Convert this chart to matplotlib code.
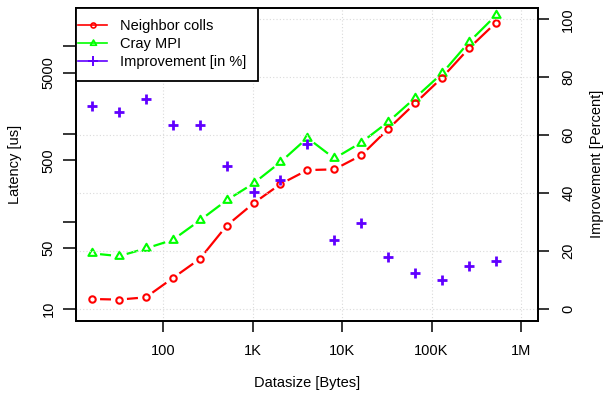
import numpy as np
import matplotlib
matplotlib.use('Agg')
import matplotlib.pyplot as plt
from matplotlib.lines import Line2D
from matplotlib.path import Path
from matplotlib.patches import Rectangle

plt.rcParams['font.family'] = ['Liberation Sans', 'DejaVu Sans']
plt.rcParams['font.size'] = 10.5

# message sizes in bytes (16 B .. 512 KB)
sizes = [16, 32, 64, 128, 256, 512, 1024, 2048, 4096, 8192, 16384,
         32768, 65536, 131072, 262144, 524288]
# latency in microseconds
neighbor = [13.1, 12.9, 13.7, 22.7, 37.5, 89.8, 162, 268, 387, 394, 570,
            1138, 2234, 4375, 9460, 18540]
cray = [43.4, 40.4, 49.4, 61.9, 103, 175, 273, 477, 901, 525, 798,
        1371, 2575, 4896, 11120, 22430]
# improvement in percent
improvement = [70.1, 68.0, 72.5, 63.6, 63.6, 49.5, 40.5, 44.5, 57.0, 23.7,
               29.6, 18.1, 12.5, 9.9, 14.7, 16.6]

xticks = [100, 1000, 10000, 100000, 1000000]
xticklabels = ['100', '1K', '10K', '100K', '1M']
yticks = [10, 50, 100, 500, 1000, 5000, 10000]
yticklabels = ['10', '50', '', '500', '', '5000', '']
rticks = [0, 20, 40, 60, 80, 100]

RED = '#FF0000'
GREEN = '#00FF00'
PURPLE = '#6000FF'

W, H = 608, 395
fig = plt.figure(figsize=(W / 100, H / 100), dpi=100)
x0, x1, y0, y1 = 75.7, 537.7, 7.7, 320.7
ax = fig.add_axes([x0 / W, 1 - y1 / H, (x1 - x0) / W, (y1 - y0) / H])
ax.set_xscale('log')
ax.set_yscale('log')
ax.set_xlim(10.5, 1.54e6)
ax.set_ylim(7.41, 27500)
ax2 = ax.twinx()
ax2.set_ylim(-4.04, 104.0)

for a in (ax, ax2):
    a.minorticks_off()
    for s in a.spines.values():
        s.set_linewidth(1.3)

ax.set_xticks(xticks)
ax.set_xticklabels(xticklabels)
ax.set_yticks(yticks)
ax.set_yticklabels(yticklabels, rotation=90, va='center')
ax2.set_yticks(rticks)
ax2.set_yticklabels([str(t) for t in rticks], rotation=90, va='center')
ax.tick_params(axis='x', length=8, width=1.1, pad=9)
ax.tick_params(axis='y', length=9.5, width=1.1, pad=5)
ax2.tick_params(axis='y', length=8, width=1.1, pad=9)

# dotted grid: vertical at x ticks, horizontal at right axis ticks
ax.grid(True, axis='x', color='#DADADA', linestyle=(0, (1, 2)), linewidth=0.8)
ax2.grid(True, axis='y', color='#DADADA', linestyle=(0, (1, 2)), linewidth=0.8)
ax.set_axisbelow(True)


def gapped(a, x, y, gap, **kw):
    # R type="b": segments stop short of the points
    pts = a.transData.transform(np.column_stack([x, y]))
    inv = a.transData.inverted()
    for p, q in zip(pts[:-1], pts[1:]):
        d = q - p
        L = np.hypot(*d)
        if L <= 2 * gap:
            continue
        u = d / L
        seg = inv.transform([p + u * gap, q - u * gap])
        a.plot(seg[:, 0], seg[:, 1], solid_capstyle='butt', **kw)


tri = Path([(0, 1), (-0.866, -0.5), (0.866, -0.5), (0, 1)], closed=True)

gapped(ax, sizes, cray, 8, color=GREEN, lw=1.6)
gapped(ax, sizes, neighbor, 8, color=RED, lw=1.6)
ax.plot(sizes, cray, ls='none', marker=tri, ms=6.8, mfc='none', mec=GREEN, mew=1.5)
ax.plot(sizes, neighbor, ls='none', marker='o', ms=4.6, mfc='none', mec=RED, mew=1.5)
ax2.plot(sizes, improvement, ls='none', marker='+', ms=7.5, mec=PURPLE, mew=2)

# legend box (drawn by hand so the padding can be uneven like in R)
box = Rectangle((x0 / W, 1 - 81 / H), (257.7 - x0) / W, (81 - y0) / H,
                transform=fig.transFigure, facecolor='white', edgecolor='black',
                linewidth=1.3, zorder=4, clip_on=False)
ax2.add_artist(box)

handles = [
    Line2D([], [], color=RED, lw=1.2, marker='o', ms=3.6, mfc='none', mew=1.2),
    Line2D([], [], color=GREEN, lw=1.2, marker=tri, ms=5, mfc='none', mew=1.2),
    Line2D([], [], color=PURPLE, lw=1.2, marker='+', ms=7, mew=1.4),
]
leg = ax2.legend(handles, ['Neighbor colls', 'Cray MPI', 'Improvement [in %]'],
                 loc='upper left', bbox_to_anchor=(78.3 / W, 1 - 19.3 / H),
                 bbox_transform=fig.transFigure, borderaxespad=0, borderpad=0,
                 frameon=False, handlelength=1.95, handletextpad=0.9,
                 labelspacing=0.27)
leg.set_zorder(5)

fig.text(306.7 / W, 1 - 383 / H, 'Datasize [Bytes]', ha='center', va='center')
fig.text(15 / W, 1 - 164 / H, 'Latency [us]', rotation=90, ha='center', va='center')
fig.text(597 / W, 1 - 164 / H, 'Improvement [Percent]', rotation=90,
         ha='center', va='center')

fig.savefig('out.png', dpi=100)
